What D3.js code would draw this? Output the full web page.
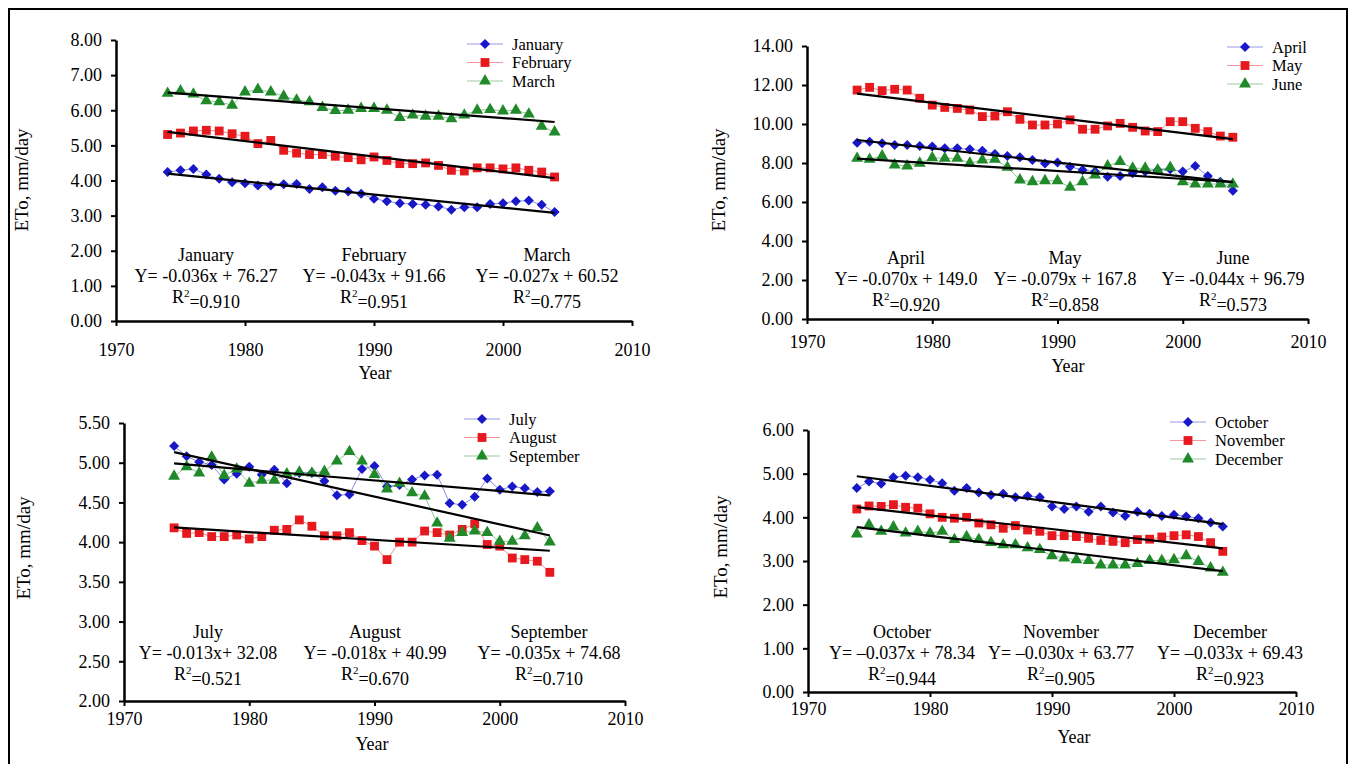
<!DOCTYPE html>
<html>
<head>
<meta charset="utf-8">
<script src="https://cdn.jsdelivr.net/npm/d3@7"></script>
<style>
  body { margin: 0; background: #fff; }
  text { font-family: "Liberation Serif", "Times New Roman", serif; fill: #000; }
</style>
</head>
<body>
<svg id="chart" width="1356" height="764"></svg>
<script>
// years of record
const years = [1974, 1975, 1976, 1977, 1978, 1979, 1980, 1981, 1982, 1983, 1984, 1985, 1986, 1987, 1988,
  1989, 1990, 1991, 1992, 1993, 1994, 1995, 1996, 1997, 1998, 1999, 2000, 2001, 2002, 2003, 2004];

// monthly ETo, mm/day
const january = [4.24, 4.29, 4.33, 4.17, 4.05, 3.95, 3.92, 3.86, 3.86, 3.89, 3.90, 3.76, 3.81, 3.71, 3.69,
  3.62, 3.48, 3.41, 3.35, 3.33, 3.31, 3.26, 3.17, 3.24, 3.24, 3.33, 3.35, 3.41, 3.43, 3.31, 3.10];
const february = [5.31, 5.35, 5.41, 5.43, 5.41, 5.33, 5.26, 5.05, 5.14, 4.86, 4.78, 4.74, 4.74, 4.69, 4.65,
  4.59, 4.67, 4.57, 4.48, 4.48, 4.50, 4.43, 4.29, 4.27, 4.36, 4.36, 4.33, 4.36, 4.29, 4.24, 4.10];
const march = [6.48, 6.55, 6.46, 6.27, 6.24, 6.14, 6.52, 6.59, 6.52, 6.40, 6.29, 6.24, 6.08, 5.99, 6.00,
  6.05, 6.05, 6.00, 5.79, 5.86, 5.83, 5.83, 5.76, 5.86, 6.00, 6.02, 5.98, 6.00, 5.89, 5.54, 5.38];
const april = [9.04, 9.09, 9.01, 8.92, 8.92, 8.87, 8.84, 8.75, 8.75, 8.70, 8.63, 8.46, 8.36, 8.29, 8.15,
  7.98, 8.02, 7.81, 7.64, 7.56, 7.30, 7.33, 7.47, 7.56, 7.64, 7.68, 7.56, 7.85, 7.33, 7.04, 6.58];
const may = [11.74, 11.88, 11.71, 11.78, 11.74, 11.32, 10.97, 10.85, 10.80, 10.72, 10.38, 10.41, 10.63, 10.24, 9.95,
  9.95, 10.00, 10.21, 9.73, 9.73, 9.90, 10.03, 9.83, 9.64, 9.61, 10.12, 10.12, 9.78, 9.61, 9.38, 9.32];
const june = [8.24, 8.19, 8.36, 7.90, 7.85, 7.99, 8.27, 8.24, 8.24, 7.99, 8.15, 8.19, 7.78, 7.13, 7.04,
  7.09, 7.09, 6.75, 7.04, 7.38, 7.85, 8.07, 7.73, 7.73, 7.64, 7.78, 7.04, 6.92, 6.92, 6.92, 6.92];
const july = [5.21, 5.08, 5.01, 4.97, 4.79, 4.86, 4.95, 4.85, 4.91, 4.74, 4.87, 4.87, 4.77, 4.59, 4.60,
  4.92, 4.96, 4.70, 4.72, 4.79, 4.84, 4.85, 4.49, 4.47, 4.57, 4.80, 4.66, 4.70, 4.68, 4.63, 4.64];
const august = [4.18, 4.11, 4.12, 4.07, 4.07, 4.09, 4.04, 4.07, 4.15, 4.16, 4.28, 4.20, 4.08, 4.08, 4.12,
  4.02, 3.95, 3.78, 4.00, 4.00, 4.14, 4.12, 4.09, 4.16, 4.23, 3.97, 3.95, 3.80, 3.78, 3.76, 3.62];
const september = [4.83, 4.95, 4.87, 5.07, 4.84, 4.92, 4.74, 4.78, 4.78, 4.86, 4.88, 4.87, 4.89, 5.02, 5.14,
  5.02, 4.85, 4.67, 4.74, 4.62, 4.58, 4.24, 4.05, 4.12, 4.14, 4.12, 4.01, 4.01, 4.08, 4.18, 4.00];
const october = [4.67, 4.82, 4.77, 4.92, 4.95, 4.92, 4.86, 4.78, 4.61, 4.67, 4.57, 4.51, 4.54, 4.46, 4.49,
  4.46, 4.25, 4.19, 4.25, 4.13, 4.25, 4.11, 4.03, 4.13, 4.08, 4.03, 4.06, 4.02, 3.98, 3.88, 3.79];
const november = [4.19, 4.26, 4.25, 4.29, 4.23, 4.21, 4.08, 4.00, 3.98, 4.00, 3.87, 3.83, 3.75, 3.81, 3.71,
  3.68, 3.58, 3.58, 3.56, 3.52, 3.47, 3.45, 3.42, 3.49, 3.50, 3.55, 3.58, 3.60, 3.56, 3.42, 3.22];
const december = [3.62, 3.83, 3.68, 3.78, 3.64, 3.68, 3.64, 3.68, 3.49, 3.56, 3.49, 3.42, 3.37, 3.37, 3.30,
  3.26, 3.12, 3.07, 3.03, 3.01, 2.91, 2.91, 2.91, 2.94, 3.01, 3.01, 3.03, 3.12, 2.99, 2.84, 2.74];

// tick labels
const xTicks = [1970, 1980, 1990, 2000, 2010];
const yTicks1 = [0, 1, 2, 3, 4, 5, 6, 7, 8];
const yTicks2 = [0, 2, 4, 6, 8, 10, 12, 14];
const yTicks3 = [2, 2.5, 3, 3.5, 4, 4.5, 5, 5.5];
const yTicks4 = [0, 1, 2, 3, 4, 5, 6];

// regression notes printed under each panel
const names1 = ["January", "February", "March"];
const names2 = ["April", "May", "June"];
const names3 = ["July", "August", "September"];
const names4 = ["October", "November", "December"];
const eqs1 = ["Y= -0.036x + 76.27", "Y= -0.043x + 91.66", "Y= -0.027x + 60.52"];
const eqs2 = ["Y= -0.070x + 149.0", "Y= -0.079x + 167.8", "Y= -0.044x + 96.79"];
const eqs3 = ["Y= -0.013x+ 32.08", "Y= -0.018x + 40.99", "Y= -0.035x + 74.68"];
const eqs4 = ["Y= \u20130.037x + 78.34", "Y= \u20130.030x + 63.77", "Y= \u20130.033x + 69.43"];
const rsq1 = ["0.910", "0.951", "0.775"];
const rsq2 = ["0.920", "0.858", "0.573"];
const rsq3 = ["0.521", "0.670", "0.710"];
const rsq4 = ["0.944", "0.905", "0.923"];

const panels = [
  { names: names1, values: [january, february, march], eqs: eqs1, rsq: rsq1, yTicks: yTicks1,
    left: 116, right: 632, top: 40, bottom: 321, legX: 485, legY: 44, titleX: 21, titleY: 180,
    noteX: [206, 374, 547], noteY: 255, xLabY: 350, yearX: 375, yearY: 373 },
  { names: names2, values: [april, may, june], eqs: eqs2, rsq: rsq2, yTicks: yTicks2,
    left: 807, right: 1308, top: 46, bottom: 319, legX: 1245, legY: 47, titleX: 718, titleY: 180,
    noteX: [906, 1065, 1233], noteY: 258, xLabY: 342, yearX: 1068, yearY: 366 },
  { names: names3, values: [july, august, september], eqs: eqs3, rsq: rsq3, yTicks: yTicks3,
    left: 124, right: 625, top: 423, bottom: 701, legX: 482, legY: 419, titleX: 23, titleY: 548,
    noteX: [208, 375, 549], noteY: 632, xLabY: 719, yearX: 372, yearY: 744 },
  { names: names4, values: [october, november, december], eqs: eqs4, rsq: rsq4, yTicks: yTicks4,
    left: 808, right: 1296, top: 430, bottom: 692, legX: 1188, legY: 422, titleX: 720, titleY: 547,
    noteX: [902, 1061, 1230], noteY: 632, xLabY: 709, yearX: 1074, yearY: 737 }
];

const colors = ["#1818c8", "#e6191e", "#20892a"];
const markers = [
  { type: d3.symbolSquare, size: 50, rot: 45 },
  { type: d3.symbolSquare, size: 78, rot: 0 },
  { type: d3.symbolTriangle, size: 62, rot: 0 }
];

const svg = d3.select("#chart");

// figure frame
svg.append("path")
  .attr("d", "M9,770V9H1347V770")
  .attr("fill", "none")
  .attr("stroke", "#000")
  .attr("stroke-width", 2);

// least squares fit of one series
const fit = (xs, ys) => {
  const mx = d3.mean(xs), my = d3.mean(ys);
  const b = d3.sum(xs, (d, i) => (d - mx) * (ys[i] - my)) / d3.sum(xs, d => (d - mx) * (d - mx));
  return [my - b * mx, b];
};

panels.forEach(p => {
  const lo = d3.min(p.yTicks), hi = d3.max(p.yTicks);
  const x = d3.scaleLinear().domain([1970, 2010]).range([p.left, p.right]);
  const y = d3.scaleLinear().domain([lo, hi]).range([p.bottom, p.top]);
  const g = svg.append("g");

  // y axis
  const ya = g.append("g")
    .attr("transform", `translate(${p.left},0)`)
    .call(d3.axisLeft(y).tickValues(p.yTicks).tickFormat(d3.format(".2f")).tickSize(5).tickSizeOuter(0).tickPadding(9));
  ya.select(".domain").attr("stroke-width", 2.5);
  ya.selectAll(".tick line").attr("stroke-width", 2);
  ya.selectAll("text").attr("font-size", 18).attr("font-family", "Liberation Serif");

  // x axis
  const xa = g.append("g")
    .attr("transform", `translate(0,${p.bottom})`)
    .call(d3.axisBottom(x).tickValues(xTicks).tickFormat(d3.format("d")).tickSize(5).tickSizeOuter(0));
  xa.select(".domain").attr("stroke-width", 2.5);
  xa.selectAll(".tick line").attr("stroke-width", 2);
  xa.selectAll("text").attr("font-size", 18).attr("font-family", "Liberation Serif")
    .attr("y", p.xLabY - p.bottom).attr("dy", "0.35em");

  g.append("text").attr("x", p.yearX).attr("y", p.yearY).attr("dy", "0.35em")
    .attr("text-anchor", "middle").attr("font-size", 18).text("Year");
  g.append("text")
    .attr("transform", `translate(${p.titleX},${p.titleY}) rotate(-90)`)
    .attr("dy", "0.35em").attr("text-anchor", "middle").attr("font-size", 19).text("ETo, mm/day");

  // series: thin connecting line, then markers
  p.values.forEach((vals, i) => {
    const line = d3.line().x((d, j) => x(years[j])).y(d => y(d));
    g.append("path").attr("d", line(vals)).attr("fill", "none")
      .attr("stroke", colors[i]).attr("stroke-opacity", 0.5).attr("stroke-width", 1);
    const sym = d3.symbol().type(markers[i].type).size(markers[i].size);
    g.selectAll(null).data(vals).join("path")
      .attr("d", sym)
      .attr("transform", (d, j) => `translate(${x(years[j])},${y(d)}) rotate(${markers[i].rot})`)
      .attr("fill", colors[i]);
  });

  // linear trend lines
  p.values.forEach(vals => {
    const [a, b] = fit(years, vals);
    const x0 = d3.min(years), x1 = d3.max(years);
    g.append("line")
      .attr("x1", x(x0)).attr("y1", y(a + b * x0))
      .attr("x2", x(x1)).attr("y2", y(a + b * x1))
      .attr("stroke", "#000").attr("stroke-width", 2.2);
  });

  // legend
  p.names.forEach((name, i) => {
    const ly = p.legY + i * 18.5;
    g.append("line").attr("x1", p.legX - 18).attr("x2", p.legX + 18).attr("y1", ly).attr("y2", ly)
      .attr("stroke", colors[i]).attr("stroke-opacity", 0.45).attr("stroke-width", 1.2);
    g.append("path").attr("d", d3.symbol().type(markers[i].type).size(markers[i].size)())
      .attr("transform", `translate(${p.legX},${ly}) rotate(${markers[i].rot})`)
      .attr("fill", colors[i]);
    g.append("text").attr("x", p.legX + 27).attr("y", ly).attr("dy", "0.35em")
      .attr("font-size", 16.5).text(name);
  });

  // regression notes
  p.names.forEach((name, i) => {
    const cx = p.noteX[i];
    g.append("text").attr("x", cx).attr("y", p.noteY).attr("dy", "0.35em")
      .attr("text-anchor", "middle").attr("font-size", 18).text(name);
    g.append("text").attr("x", cx).attr("y", p.noteY + 21).attr("dy", "0.35em")
      .attr("text-anchor", "middle").attr("font-size", 18).text(p.eqs[i]);
    const r = g.append("text").attr("x", cx).attr("y", p.noteY + 42).attr("dy", "0.35em")
      .attr("text-anchor", "middle").attr("font-size", 18);
    r.append("tspan").text("R");
    r.append("tspan").attr("font-size", 11).attr("dy", "-0.6em").text("2");
    r.append("tspan").attr("dy", "0.6em").text("=" + p.rsq[i]);
  });
});
</script>
</body>
</html>
